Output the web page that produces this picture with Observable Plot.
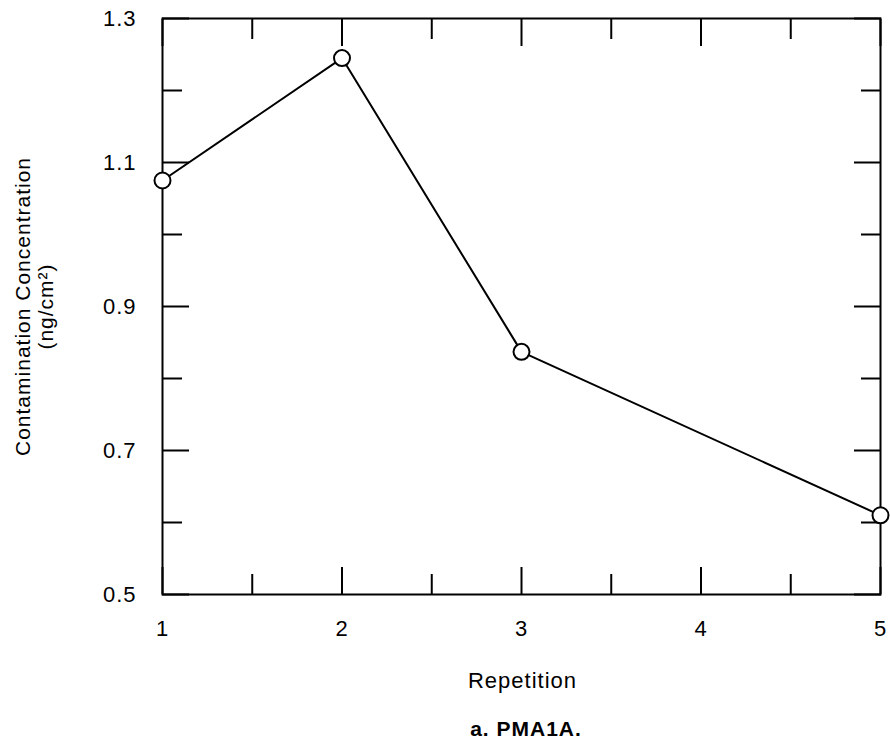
<!DOCTYPE html>
<html>
<head>
<meta charset="utf-8">
<script src="https://cdn.jsdelivr.net/npm/d3@7"></script>
<script src="https://cdn.jsdelivr.net/npm/@observablehq/plot@0.6"></script>
<style>
  body { margin: 0; background: white; }
  #chart svg text { letter-spacing: 1px; }
  #caption { width: 728px; padding-left: 162px; text-align: center; font: bold 21px "Liberation Sans", Arial, sans-serif; line-height: 24px; padding-top: 7px; color: black; letter-spacing: 1px; }
</style>
</head>
<body>
<div id="chart"></div>
<div id="caption">a. PMA1A.</div>
<script>
const repetition = [1, 2, 3, 5];
const concentration = [1.075, 1.245, 0.837, 0.61];
const xMajorTicks = [1, 2, 3, 4, 5];
const xMinorTicks = [1.5, 2.5, 3.5, 4.5];
const yMajorTicks = [0.5, 0.7, 0.9, 1.1, 1.3];
const yMinorTicks = [0.6, 0.8, 1.0, 1.2];
const xTitle = "Repetition";
const yTitle = "Contamination Concentration\n(ng/cm²)";

const data = repetition.map((r, i) => ({rep: r, conc: concentration[i]}));
const fmt = d3.format(".1f");

const chart = Plot.plot({
  width: 890,
  height: 710,
  marginLeft: 162,
  marginRight: 10,
  marginTop: 18,
  marginBottom: 116,
  style: {fontFamily: "'Liberation Sans', Arial, sans-serif", fontSize: "22px", background: "white", color: "black", overflow: "visible"},
  x: {domain: [1, 5]},
  y: {domain: [0.5, 1.3]},
  marks: [
    // inward ticks, bottom & top
    Plot.axisX(xMajorTicks, {anchor: "bottom", tickSize: -27, strokeWidth: 2, text: null, label: null}),
    Plot.axisX(xMinorTicks, {anchor: "bottom", tickSize: -20, strokeWidth: 2, text: null, label: null}),
    Plot.axisX(xMajorTicks, {anchor: "top", tickSize: -27, strokeWidth: 2, text: null, label: null}),
    Plot.axisX(xMinorTicks, {anchor: "top", tickSize: -20, strokeWidth: 2, text: null, label: null}),
    // inward ticks, left & right
    Plot.axisY(yMajorTicks, {anchor: "left", tickSize: -27, strokeWidth: 2, text: null, label: null}),
    Plot.axisY(yMinorTicks, {anchor: "left", tickSize: -20, strokeWidth: 2, text: null, label: null}),
    Plot.axisY(yMajorTicks, {anchor: "right", tickSize: -27, strokeWidth: 2, text: null, label: null}),
    Plot.axisY(yMinorTicks, {anchor: "right", tickSize: -20, strokeWidth: 2, text: null, label: null}),
    // tick labels
    Plot.axisX(xMajorTicks, {anchor: "bottom", tickSize: 0, tickPadding: 26, fontSize: 22, tickFormat: "d", label: null}),
    Plot.axisY(yMajorTicks, {anchor: "left", tickSize: 0, tickPadding: 26, fontSize: 22, tickFormat: fmt, label: null}),
    Plot.frame({stroke: "black", strokeWidth: 2}),
    Plot.line(data, {x: "rep", y: "conc", stroke: "black", strokeWidth: 2}),
    Plot.dot(data, {x: "rep", y: "conc", r: 8, fill: "white", stroke: "black", strokeWidth: 2}),
    // titles
    Plot.text([xTitle], {frameAnchor: "bottom", dx: 1, dy: 86, textAnchor: "middle", lineAnchor: "middle", fontSize: 22, fill: "black"}),
    Plot.text([yTitle], {frameAnchor: "left", dx: -128, rotate: -90, textAnchor: "middle", lineAnchor: "middle", lineHeight: 1.08, fontSize: 21, fill: "black"})
  ]
});
document.getElementById("chart").appendChild(chart);
</script>
</body>
</html>
